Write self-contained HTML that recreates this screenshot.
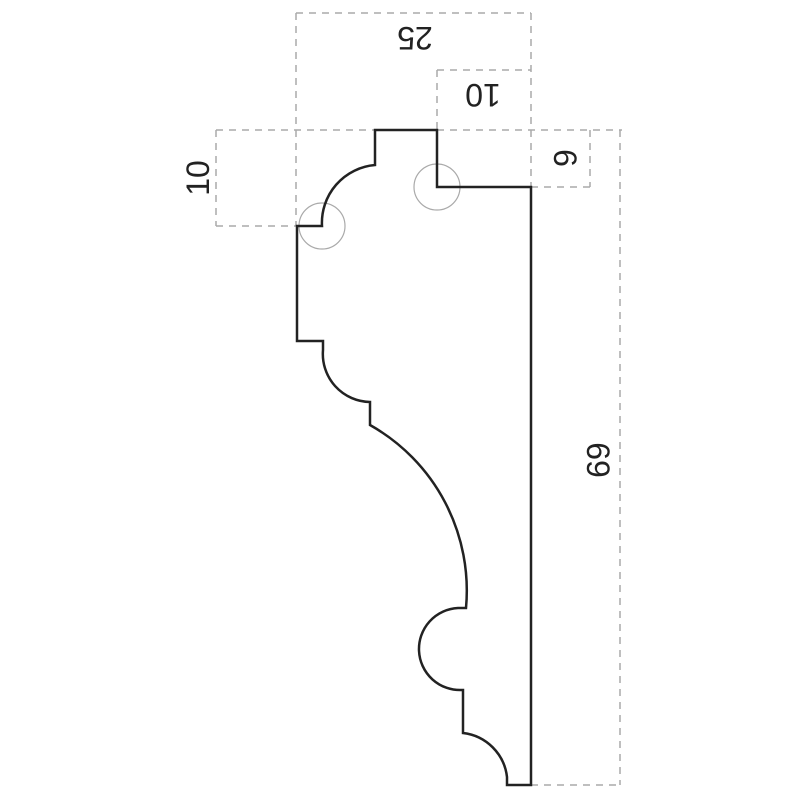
<!DOCTYPE html>
<html><head><style>body{margin:0;background:#fff}svg{display:block}</style></head><body>
<svg width="800" height="800" viewBox="0 0 800 800" xmlns="http://www.w3.org/2000/svg">
<g stroke="#aaa" stroke-width="1.5" stroke-dasharray="7,6" fill="none">
<path d="M296 13H531M296 13V226M531 13V187M437 70H531M437 70V130M216 130H622M216 130V226M216 226H297M531 187H595M590 130V187M620 130V785M531 785H620"/>
</g>
<g stroke="#aaa" stroke-width="1.2" fill="none">
<circle cx="437" cy="187" r="23"/>
<circle cx="322" cy="226" r="23"/>
</g>
<path d="M375 130H437V187H531V785H507V777A50 50 0 0 0 463 733V690H462A41 41 0 0 1 458 608H466A190 190 0 0 0 370 425V402A48 48 0 0 1 323 350V341H297V226H322A58 58 0 0 1 375 165Z" fill="none" stroke="#222" stroke-width="2.5"/>
<g font-family="Liberation Sans, sans-serif" font-size="32" fill="#222" text-anchor="middle">
<text transform="translate(415,38) rotate(180)" dy="11">25</text>
<text transform="translate(483,95) rotate(180)" dy="11">10</text>
<text transform="translate(198,178) rotate(-90)" dy="11">10</text>
<text transform="translate(565,158) rotate(90)" dy="11">6</text>
<text transform="translate(598,460) rotate(90)" dy="11">69</text>
</g>
</svg>
</body></html>
